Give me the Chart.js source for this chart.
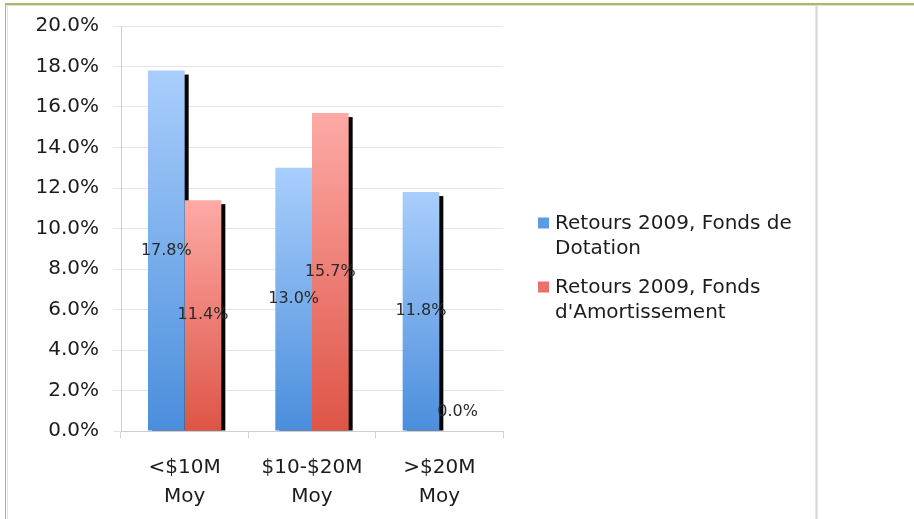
<!DOCTYPE html>
<html>
<head>
<meta charset="utf-8">
<title>Retours 2009</title>
<script src="https://cdn.jsdelivr.net/npm/chart.js@4/dist/chart.umd.min.js"></script>
<style>
  html, body { margin: 0; padding: 0; background: #fff; }
  #wrap { position: relative; width: 914px; height: 519px; overflow: hidden; }
  #chart { position: absolute; left: 0; top: 0; }
  .rule { position: absolute; pointer-events: none; }
  #topRule { left: 5px; top: 3px; width: 909px; height: 2px; background: #a3bb6b; }
  #topRule2 { left: 6px; top: 5px; width: 908px; height: 1px; background: #dbe5c2; }
  #leftRule { left: 5px; top: 3px; width: 1px; height: 516px; background: #a3bb6b; }
  #leftRule2 { left: 7px; top: 6px; width: 1px; height: 513px; background: #e6e6e6; }
  #sideRule { left: 815px; top: 6px; width: 3px; height: 513px;
              background: linear-gradient(to right, #f0f0f0, #d6d6d6, #efefef); }
</style>
</head>
<body>
<div id="wrap">
  <canvas id="chart" width="914" height="519"></canvas>
  <div class="rule" id="topRule"></div>
  <div class="rule" id="topRule2"></div>
  <div class="rule" id="leftRule"></div>
  <div class="rule" id="leftRule2"></div>
  <div class="rule" id="sideRule"></div>
</div>
<script>
// Size classes of endowments (two-line axis labels)
const categories = [['<$10M', 'Moy'], ['$10-$20M', 'Moy'], ['>$20M', 'Moy']];

// 2009 returns, in percent
const seriesNames = ['Retours 2009, Fonds de Dotation', "Retours 2009, Fonds d'Amortissement"];
const dotationReturns = [17.8, 13.0, 11.8];
const amortissementReturns = [11.4, 15.7, 0.0];

// Y axis ticks
const yTickValues = [0, 2, 4, 6, 8, 10, 12, 14, 16, 18, 20];

const FONT = "'DejaVu Sans', 'Verdana', sans-serif";
const TEXT = '#1c1c1c';

// Per-bar vertical gradient: light at the bar top, deeper at the base
function barGradient(top, bottom) {
  return (c) => {
    const chart = c.chart;
    const y = chart.scales && chart.scales.y;
    if (c.type !== 'data' || !y || !chart.chartArea) return bottom;
    const yTop = y.getPixelForValue(c.raw);
    const yBase = y.getPixelForValue(0);
    if (Math.abs(yBase - yTop) < 1) return bottom;
    const g = chart.ctx.createLinearGradient(0, yTop, 0, yBase);
    g.addColorStop(0, top);
    g.addColorStop(1, bottom);
    return g;
  };
}

// Hard black drop shadow, offset down-right, clipped at the baseline
const barShadow = {
  id: 'barShadow',
  beforeDatasetsDraw(chart, args, opts) {
    const ctx = chart.ctx;
    ctx.save();
    ctx.fillStyle = opts.color;
    chart.getSortedVisibleDatasetMetas().forEach((meta) => {
      meta.data.forEach((bar) => {
        const h = bar.base - bar.y - opts.dy;
        if (h <= 0) return;
        ctx.fillRect(bar.x - bar.width / 2 + opts.dx, bar.y + opts.dy, bar.width, h);
      });
    });
    ctx.restore();
  }
};

// Value labels centred inside each bar
const valueLabels = {
  id: 'valueLabels',
  afterDatasetsDraw(chart, args, opts) {
    const ctx = chart.ctx;
    ctx.save();
    ctx.font = opts.font;
    ctx.fillStyle = opts.color;
    ctx.textAlign = 'center';
    ctx.textBaseline = 'middle';
    chart.data.datasets.forEach((ds, di) => {
      const meta = chart.getDatasetMeta(di);
      meta.data.forEach((bar, i) => {
        const v = ds.data[i];
        let y = (bar.y + bar.base) / 2;
        if (bar.base - bar.y < 2 * opts.minLift) y = bar.base - opts.minLift;
        ctx.fillText(v.toFixed(1) + '%', bar.x, y);
      });
    });
    ctx.restore();
  }
};

// Legend to the right of the plot, with word-wrapped labels
const sideLegend = {
  id: 'sideLegend',
  afterDraw(chart, args, opts) {
    const ctx = chart.ctx;
    ctx.save();
    ctx.font = opts.font;
    ctx.textBaseline = 'middle';
    ctx.textAlign = 'left';
    let y = opts.y;
    chart.data.datasets.forEach((ds) => {
      const words = ds.label.split(' ');
      const lines = [];
      let line = '';
      words.forEach((w) => {
        const test = line ? line + ' ' + w : w;
        if (line && ctx.measureText(test).width > opts.maxWidth) {
          lines.push(line);
          line = w;
        } else {
          line = test;
        }
      });
      if (line) lines.push(line);
      ctx.fillStyle = ds.legendColor;
      ctx.fillRect(opts.x, y - opts.box / 2 - 1, opts.box, opts.box);
      ctx.fillStyle = opts.color;
      lines.forEach((l, k) => ctx.fillText(l, opts.x + opts.box + opts.gap, y + k * opts.lineHeight));
      y += lines.length * opts.lineHeight + opts.itemGap;
    });
    ctx.restore();
  }
};

new Chart(document.getElementById('chart'), {
  type: 'bar',
  data: {
    labels: categories,
    datasets: [
      {
        label: seriesNames[0],
        data: dotationReturns,
        backgroundColor: barGradient('#a9cefc', '#4a8edc'),
        legendColor: '#5a9be6',
        borderWidth: 0
      },
      {
        label: seriesNames[1],
        data: amortissementReturns,
        backgroundColor: barGradient('#fdaaa6', '#de5446'),
        legendColor: '#ec716a',
        borderWidth: 0
      }
    ]
  },
  options: {
    responsive: false,
    animation: false,
    events: [],
    categoryPercentage: 0.576,
    barPercentage: 1.0,
    layout: { padding: { left: 0, top: 24, right: 411, bottom: 0 } },
    scales: {
      x: {
        afterFit(scale) { scale.height = 88; },
        grid: { offset: true, drawOnChartArea: false, drawTicks: true, tickLength: 7, color: '#d2d2d2' },
        border: { display: true, color: '#cfcfcf' },
        ticks: {
          color: TEXT,
          padding: 15,
          maxRotation: 0,
          font: { family: FONT, size: 20, lineHeight: 1.45 }
        }
      },
      y: {
        min: 0,
        max: 20,
        afterFit(scale) { scale.width = 121; },
        afterBuildTicks(scale) { scale.ticks = yTickValues.map((v) => ({ value: v })); },
        grid: { color: '#e4e4e4', tickLength: 8, drawTicks: true },
        border: { display: true, color: '#cfcfcf' },
        ticks: {
          color: TEXT,
          padding: 14,
          font: { family: FONT, size: 20 },
          callback: (v) => Number(v).toFixed(1) + '%'
        }
      }
    },
    plugins: {
      legend: { display: false },
      tooltip: { enabled: false },
      barShadow: { color: '#050505', dx: 4, dy: 4 },
      valueLabels: { font: "16px " + FONT, color: '#2a2a2a', minLift: 19 },
      sideLegend: {
        x: 538, y: 224, box: 11, gap: 6, lineHeight: 25, itemGap: 14,
        maxWidth: 250, font: "20px " + FONT, color: TEXT
      }
    }
  },
  plugins: [barShadow, valueLabels, sideLegend]
});
</script>
</body>
</html>
